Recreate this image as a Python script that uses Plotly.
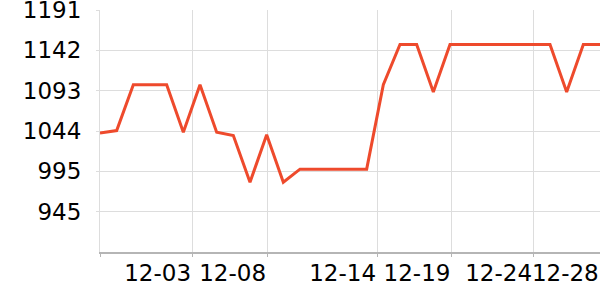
import plotly.graph_objects as go

dates = ["2023-11-30"] + [f"2023-12-{d:02d}" for d in range(1, 31)]
values = [1041, 1044, 1100, 1100, 1100, 1042, 1100, 1042, 1038, 981,
          1039, 981, 997, 997, 997, 997, 997, 1100, 1149, 1149,
          1091, 1149, 1149, 1149, 1149, 1149, 1149, 1149, 1091, 1149,
          1149]

x_tickvals = ["2023-11-30", "2023-12-05 12:55", "2023-12-10 00:55",
              "2023-12-16 15:19", "2023-12-21 02:27", "2023-12-26 00:00",
              "2023-12-30 00:00"]
x_ticktext = ["", "12-03", "12-08", "12-14", "12-19", "12-24", "12-28"]

y_min, y_max = 896, 1191
y_ticktext = ["945", "995", "1044", "1093", "1142", "1191"]
y_tickvals = [y_min + (y_max - y_min) * (i + 1) / 6 for i in range(6)]

fig = go.Figure(go.Scatter(
    x=dates, y=values, mode="lines",
    line=dict(color="#ee4a2c", width=3),
    hoverinfo="skip",
))

fig.update_layout(
    width=600, height=300,
    margin=dict(l=100, r=0, t=10, b=48, autoexpand=False),
    paper_bgcolor="white", plot_bgcolor="white",
    showlegend=False,
    font=dict(family="DejaVu Sans", size=23, color="black"),
)
fig.update_xaxes(
    type="date",
    range=["2023-11-30", "2023-12-30"],
    tickmode="array", tickvals=x_tickvals, ticktext=x_ticktext,
    ticklabelposition="outside left",
    ticklabeloverflow="allow",
    tickangle=0, automargin=False,
    showgrid=True, gridcolor="#dddddd", gridwidth=1,
    showline=True, linecolor="#b5b5b5", linewidth=1.5,
    ticks="outside", ticklen=3, tickcolor="#b5b5b5",
    zeroline=False,
)
fig.update_yaxes(
    range=[y_min, y_max],
    tickmode="array", tickvals=y_tickvals, ticktext=y_ticktext,
    ticklabeloverflow="allow", automargin=False,
    showgrid=True, gridcolor="#dddddd", gridwidth=1,
    showline=True, linecolor="#dddddd", linewidth=1,
    zeroline=False,
    ticks="outside", ticklen=3, tickcolor="#dddddd",
    ticklabelstandoff=10,
)

fig.write_html("out.html")
